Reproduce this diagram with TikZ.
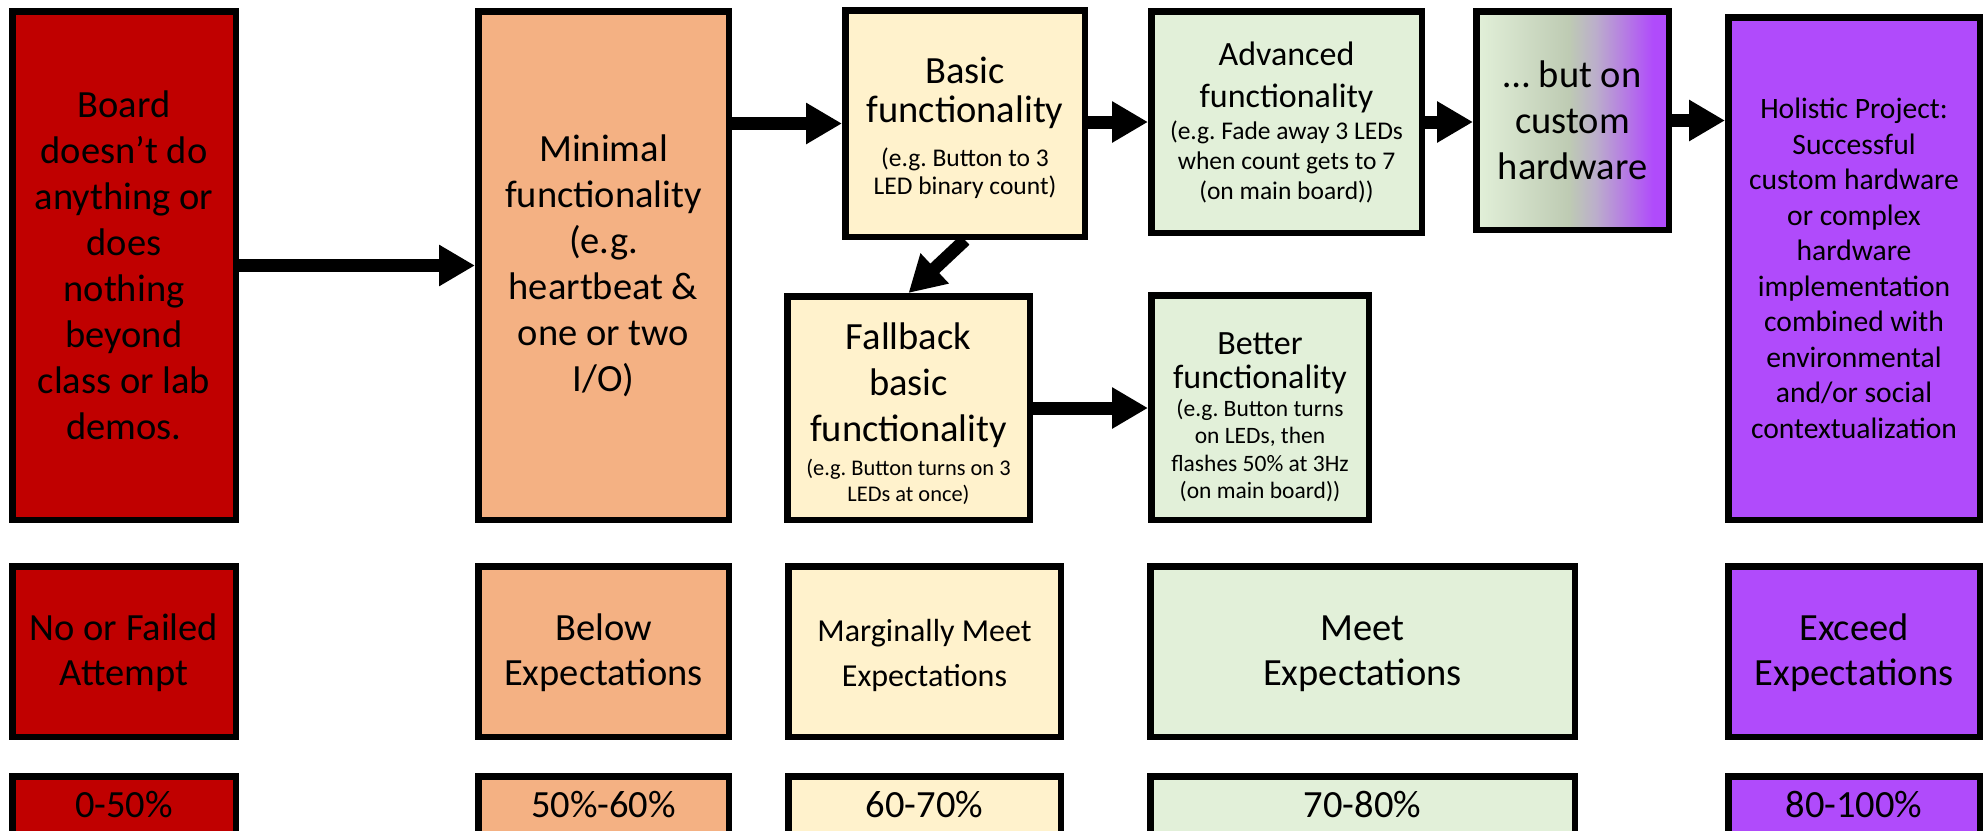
\documentclass[tikz,border=0pt]{standalone}
\usepackage{fontspec}
\setmainfont{Carlito}
\usetikzlibrary{arrows.meta}
\setlength\parindent{0pt}
\definecolor{cRed}{HTML}{C00000}
\definecolor{cOrange}{HTML}{F4B183}
\definecolor{cYellow}{HTML}{FFF2CC}
\definecolor{cGreen}{HTML}{E2F0D9}
\definecolor{cPurple}{HTML}{B04BFB}
\definecolor{cGray}{HTML}{BECBB3}
\definecolor{cLav}{HTML}{BBAECB}
\pgfdeclarehorizontalshading{custshade}{100bp}{color(0bp)=(cGreen); color(25bp)=(cGreen); color(49bp)=(cGray); color(56bp)=(cLav); color(71bp)=(cPurple); color(100bp)=(cPurple)}
\newcommand\normsp{\frenchspacing\spaceskip=\fontdimen2\font\relax}
\newcommand\fMain{\fontsize{38.5}{46}\selectfont\normsp}
\newcommand\fBasic{\fontsize{38.5}{39}\selectfont\normsp}
\newcommand\fMid{\fontsize{34}{34}\selectfont\normsp}
\newcommand\fAdv{\fontsize{34}{42}\selectfont\normsp}
\newcommand\fSubA{\fontsize{25.5}{30}\selectfont\normsp}
\newcommand\fSubBasic{\fontsize{25.5}{28}\selectfont\normsp}
\newcommand\fSubB{\fontsize{23.5}{27.5}\selectfont\normsp}
\newcommand\fSubC{\fontsize{22.4}{26}\selectfont\normsp}
\newcommand\fHol{\fontsize{29.6}{35.5}\selectfont\normsp}
\newcommand\fMarg{\fontsize{32}{45}\selectfont\normsp}
\newcommand\fRow{\fontsize{38.5}{45}\selectfont\normsp}
\newcommand\toppad[1]{\par\vspace*{#1}}
\tikzset{
  box/.style={draw=black, line width=6.5pt, inner sep=0pt, outer sep=3.25pt,
    align=center, anchor=north west},
  boxthree/.style={draw=black, line width=6.5pt, inner sep=0pt, outer sep=3.25pt,
    anchor=north west, text height=40.75pt, text depth=40pt, font=\fMain},
  arr/.style={line width=13pt, -{Triangle[length=36pt,width=39pt]}},
}
\begin{document}
\begin{tikzpicture}[x=1pt,y=-1pt]
\useasboundingbox (0,0) rectangle (1988,830);
\clip (0,0) rectangle (1988,830);
% top row
\node[box, fill=cRed, minimum width=223.5pt, text width=223.5pt, minimum height=508.5pt] (red) at (9,8)
  {\fMain Board\\doesn’t do\\anything or\\does\\nothing\\beyond\\class or lab\\demos.\par};
\node[box, fill=cOrange, minimum width=250.5pt, text width=250.5pt, minimum height=508.5pt] (orange) at (475,8)
  {\fMain Minimal\\functionality\\(e.g.\\heartbeat \&\\one or two\\I/O)\par};
\node[box, fill=cYellow, minimum width=239.5pt, text width=239.5pt, minimum height=226.5pt] (basic) at (842,7)
  {\toppad{-3pt}{\fBasic Basic\\functionality\par}\vspace{16pt}{\fSubBasic (e.g. Button to 3\\LED binary count)\par}};
\node[box, fill=cGreen, minimum width=270.5pt, text width=270.5pt, minimum height=221.5pt] (adv) at (1148,8)
  {{\fAdv Advanced\\functionality\par}\vspace{2pt}{\fSubA (e.g. Fade away 3 LEDs\\when count gets to 7\\(on main board))\par}};
\node[box, shading=custshade, minimum width=192.5pt, text width=192.5pt, minimum height=218.5pt] (custom) at (1473,8)
  {\fMain … but on\\custom\\hardware\par};
\node[box, fill=cPurple, minimum width=251.5pt, text width=251.5pt, minimum height=502.5pt] (holi) at (1725,14)
  {\fHol Holistic Project:\\Successful\\custom hardware\\or complex\\hardware\\implementation\\combined with\\environmental\\and/or social\\contextualization\par};
\node[box, fill=cYellow, minimum width=242.5pt, text width=242.5pt, minimum height=223.5pt] (fall) at (784,293)
  {\toppad{-8pt}{\fMain Fallback\\basic\\functionality\par}\vspace{8pt}{\fSubC (e.g. Button turns on 3\\LEDs at once)\par}};
\node[box, fill=cGreen, minimum width=217.5pt, text width=217.5pt, minimum height=224.5pt] (better) at (1148,292)
  {\toppad{7pt}{\fMid Better\\functionality\par}\vspace{0.5pt}{\fSubB (e.g. Button turns\\on LEDs, then\\flashes 50\% at 3Hz\\(on main board))\par}};
% second row
\node[box, fill=cRed, minimum width=223.5pt, text width=223.5pt, minimum height=170.5pt] (r2a) at (9,563)
  {\toppad{-15pt}\fRow No or Failed\\Attempt\par};
\node[box, fill=cOrange, minimum width=250.5pt, text width=250.5pt, minimum height=170.5pt] (r2b) at (475,563)
  {\toppad{-15pt}\fRow Below\\Expectations\par};
\node[box, fill=cYellow, minimum width=272.5pt, text width=272.5pt, minimum height=170.5pt] (r2c) at (785,563)
  {\toppad{-15pt}\fMarg Marginally Meet\\Expectations\par};
\node[box, fill=cGreen, minimum width=424.5pt, text width=424.5pt, minimum height=170.5pt] (r2d) at (1147,563)
  {\toppad{-15pt}\fRow Meet\\Expectations\par};
\node[box, fill=cPurple, minimum width=251.5pt, text width=251.5pt, minimum height=170.5pt] (r2e) at (1725,563)
  {\toppad{-15pt}\fRow Exceed\\Expectations\par};
% third row
\node[boxthree, fill=cRed, minimum width=223.5pt] (r3a) at (9,773) {0-50\%};
\node[boxthree, fill=cOrange, minimum width=250.5pt] (r3b) at (475,773) {50\%-60\%};
\node[boxthree, fill=cYellow, minimum width=272.5pt] (r3c) at (785,773) {60-70\%};
\node[boxthree, fill=cGreen, minimum width=424.5pt] (r3d) at (1147,773) {70-80\%};
\node[boxthree, fill=cPurple, minimum width=251.5pt] (r3e) at (1725,773) {80-100\%};
% arrows
\draw[arr] (red.east) -- (orange.west);
\draw[arr] (orange.east |- basic.west) -- (basic.west);
\draw[arr] (basic.east |- adv.west) -- (adv.west);
\draw[arr] (adv.east) -- (adv.east -| custom.west);
\draw[arr] (custom.east) -- (custom.east -| holi.west);
\draw[arr] (basic.south) -- (fall.north);
\draw[arr] (fall.east) -- (fall.east -| better.west);
\end{tikzpicture}
\end{document}
